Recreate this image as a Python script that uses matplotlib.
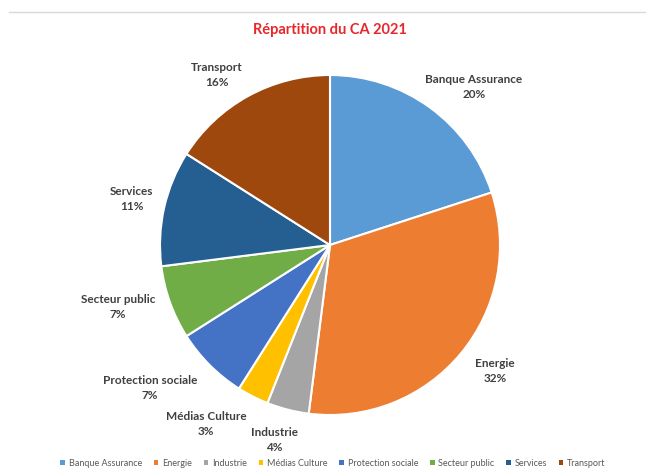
"""
Camembert : répartition du CA 2021 par secteur
"""

import matplotlib
matplotlib.use("Agg")
import matplotlib.pyplot as plt
from matplotlib.patches import Patch
from matplotlib.lines import Line2D

# données
secteurs = ['Banque Assurance', 'Energie', 'Industrie', 'Médias Culture',
            'Protection sociale', 'Secteur public', 'Services', 'Transport']
parts = [20, 32, 4, 3, 7, 7, 11, 16]
couleurs = ['#5B9BD5', '#ED7D31', '#A5A5A5', '#FFC000',
            '#4472C4', '#70AD47', '#255E91', '#9E480E']

# position des étiquettes (pixels de la figure, x / y depuis le haut)
label_px = [(474, 87), (495, 371), (274, 440), (206, 424),
            (150, 388), (118, 307), (132, 199), (217, 75)]

W, H = 648, 473
CX, CY, R = 330, 245, 170

plt.rcParams['font.family'] = ['Lato', 'DejaVu Sans']

fig = plt.figure(figsize=(W / 100, H / 100), dpi=100)
ax = fig.add_axes([0, 0, 1, 1])

wedges, _ = ax.pie(parts, colors=couleurs, startangle=90, counterclock=False,
                   wedgeprops=dict(edgecolor='white', linewidth=1.5))

ax.set_xlim(-CX / R, (W - CX) / R)
ax.set_ylim((CY - H) / R, CY / R)

for name, val, (px, py) in zip(secteurs, parts, label_px):
    ax.text((px - CX) / R, (CY - py) / R, f"{name}\n{val}%",
            ha='center', va='center', fontsize=8.5, fontweight='bold',
            color='#404040', linespacing=1.5)

# titre
fig.text(CX / W, 1 - 30 / H, "Répartition du CA 2021", ha='center', va='center',
         fontsize=10.5, fontweight='bold', color='#E8262B')

# bordure du cadre (haut)
fig.add_artist(Line2D([9 / W, 645 / W], [1 - 12 / H, 1 - 12 / H],
                      color='#D9D9D9', linewidth=1))

handles = [Patch(facecolor=c, edgecolor='none') for c in couleurs]
fig.legend(handles, secteurs, loc='center', bbox_to_anchor=(333 / W, 1 - 463 / H),
           ncol=8, frameon=False, fontsize=6.5, handlelength=0.5, handleheight=0.5,
           handletextpad=0.4, columnspacing=1.33, labelcolor='#595959')

fig.savefig("out.png", dpi=100)
